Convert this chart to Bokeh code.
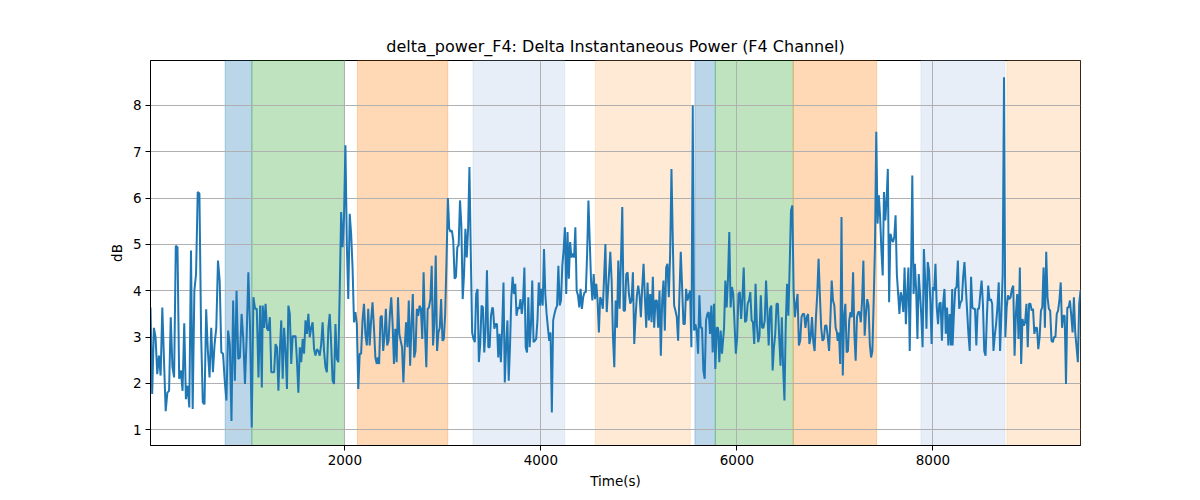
import numpy as np
from bokeh.plotting import figure
from bokeh.models import Range1d, SingleIntervalTicker, BoxAnnotation, ColumnDataSource
from bokeh.embed import file_html
from bokeh.resources import INLINE

# ---- data ----
seg_start = [17, 1162, 2336, 3512, 4695, 5869, 7028, 8201]
seg_end = [1153, 2326, 3505, 4672, 5848, 7021, 8197, 9506]

seg1 = [3.64, 1.77, 3.2, 3.0, 2.2, 2.6, 2.17, 3.64, 2.5, 1.4, 1.8, 1.84, 3.43, 2.35, 2.13, 4.97, 4.94, 2.1, 2.28, 1.84,
        3.3, 1.66, 1.95, 1.48, 4.87, 1.45, 4.0, 4.36, 6.13, 6.1, 3.07, 1.59, 1.55, 3.6, 2.7, 2.13, 3.2, 2.24, 2.85, 3.2,
        4.65, 4.22, 2.67, 2.64, 2.06, 1.63, 3.14, 2.85, 1.19, 3.79, 2.06, 4.0, 2.53, 2.56, 3.5, 2.96, 1.99, 3.0, 4.4, 3.2,
        1.05, 3.86, 3.61, 3.61, 2.13, 3.68, 1.91]
seg2 = [3.68, 3.2, 3.72, 3.18, 3.14, 3.43, 2.24, 2.24, 2.24, 2.85, 2.78, 1.84, 2.7, 3.36, 2.1, 3.2, 2.7, 1.88, 3.68, 3.5,
        2.42, 3.03, 3.0, 3.03, 2.5, 1.8, 2.78, 2.46, 2.96, 2.64, 3.36, 3.07, 3.5, 3.0, 3.2, 3.32, 2.74, 2.6, 2.74, 2.7,
        2.6, 2.85, 3.32, 2.7, 2.35, 2.24, 3.18, 3.5, 2.85, 2.06, 1.99, 3.28, 2.53, 2.46, 4.0, 5.7, 4.94, 5.59, 7.14, 4.98,
        3.82, 5.66, 5.23, 4.5, 3.32, 3.54, 3.28, 1.88, 2.64, 2.64, 3.36, 3.72, 3.07, 2.82, 3.61, 2.82, 3.36, 3.75, 3.2,
        2.56, 2.42]
seg3 = [2.56, 2.42, 3.43, 3.46, 2.7, 3.03, 3.61, 2.82, 2.92, 3.5, 3.86, 3.28, 2.42, 3.18, 2.46, 3.86, 3.07, 2.92, 2.78,
        2.02, 2.78, 3.32, 2.78, 3.79, 2.38, 3.28, 3.93, 2.56, 2.7, 3.61, 3.46, 3.68, 3.61, 2.96, 4.4, 3.18, 2.35, 3.61,
        3.64, 3.82, 4.54, 2.82, 3.32, 4.76, 2.7, 3.1, 3.2, 3.82, 2.92, 2.96, 3.5, 4.65, 6.0, 5.34, 5.27, 5.3, 5.08, 4.26,
        4.3, 4.94, 4.98, 5.95, 5.41, 3.82, 4.36, 5.34, 4.72, 5.34, 6.67, 4.8, 3.1, 2.96, 2.89, 3.93, 4.04, 2.46, 2.85,
        3.68, 3.64, 2.67, 3.18, 4.44, 2.78, 2.78, 3.46, 3.64]
seg4 = [3.61, 3.18, 3.28, 3.28, 2.56, 3.07, 2.46, 3.2, 4.18, 2.02, 2.78, 3.36, 2.06, 2.82, 3.86, 4.3, 3.93, 4.15, 3.46,
        3.64, 3.61, 3.82, 3.5, 3.79, 4.5, 2.78, 2.67, 3.86, 2.78, 3.25, 4.22, 2.89, 2.92, 2.96, 3.36, 4.18, 3.68, 4.04,
        3.68, 4.9, 3.93, 3.5, 3.2, 2.92, 3.1, 1.37, 3.36, 3.5, 3.61, 3.68, 4.54, 3.68, 3.79, 4.54, 4.87, 5.37, 3.93, 5.27,
        4.26, 5.05, 4.72, 4.8, 4.72, 5.37, 4.0, 3.9, 3.64, 4.04, 3.61, 3.86, 3.97, 3.97, 4.8, 5.95, 5.08, 4.22, 3.79,
        4.36, 3.82, 4.15, 3.79, 3.1, 3.86, 3.79, 3.61, 4.3, 5.01, 3.54]
seg5 = [4.36, 4.84, 4.22, 3.0, 2.35, 3.79, 3.2, 4.65, 3.61, 4.65, 5.81, 3.57, 3.57, 4.36, 4.4, 3.93, 3.72, 3.79, 4.4,
        2.85, 3.43, 3.9, 4.11, 3.9, 3.43, 4.08, 4.58, 3.86, 3.2, 4.18, 3.36, 3.93, 3.32, 4.3, 3.2, 3.79, 3.79, 3.2, 4.0,
        2.6, 3.79, 4.22, 3.14, 4.5, 4.58, 3.86, 4.8, 6.63, 5.08, 3.68, 3.57, 3.43, 2.92, 3.93, 4.84, 4.08, 3.28, 3.28,
        4.04, 3.79, 3.9, 4.0, 2.78, 8.0, 3.14, 3.28, 3.14, 2.64, 3.9, 3.2, 3.2, 2.28, 2.1, 3.36, 3.5, 3.54, 3.07, 3.68,
        2.67, 3.72, 2.31, 3.2, 3.2, 2.46, 3.14, 2.64]
seg6 = [3.2, 4.22, 3.64, 4.26, 5.27, 3.64, 4.08, 3.93, 3.28, 2.64, 3.0, 3.93, 3.97, 3.39, 3.86, 4.5, 3.32, 3.36, 3.72,
        3.79, 3.97, 3.36, 3.32, 2.85, 4.15, 3.28, 2.89, 3.03, 3.9, 3.2, 3.2, 3.36, 4.22, 3.54, 2.82, 3.61, 3.68, 2.28,
        2.78, 3.07, 3.72, 3.72, 3.0, 2.38, 3.43, 2.35, 1.63, 3.28, 4.15, 3.46, 4.54, 5.73, 5.84, 4.0, 3.43, 3.72, 3.93,
        2.82, 2.92, 3.43, 3.5, 3.5, 3.2, 3.43, 3.5, 2.85, 3.0, 3.43, 2.89, 2.7, 3.43, 3.93, 4.69, 3.9, 3.2, 2.92, 2.96,
        3.25, 3.25, 3.0, 2.7, 3.39, 4.22, 3.79, 3.68, 3.2, 3.1]
seg7 = [2.92, 3.1, 2.42, 5.59, 2.17, 3.43, 3.72, 2.67, 2.7, 3.36, 3.54, 3.43, 4.4, 3.07, 2.49, 3.43, 3.54, 3.54, 3.32,
        3.79, 4.65, 3.03, 3.5, 3.82, 3.68, 2.85, 2.56, 2.7, 3.79, 4.94, 7.43, 5.45, 6.06, 5.59, 4.87, 4.33, 6.13, 5.52,
        5.95, 6.63, 3.75, 5.23, 5.12, 5.05, 5.16, 5.63, 4.36, 3.93, 3.5, 3.97, 3.86, 3.54, 4.5, 3.28, 3.93, 4.5, 2.7,
        4.36, 6.49, 3.93, 4.58, 4.0, 2.96, 4.36, 3.93, 3.46, 2.78, 4.9, 4.22, 3.18, 4.62, 4.44, 3.79, 2.85, 4.08, 4.0,
        4.58, 3.64, 3.28, 3.72, 3.75, 2.92, 3.75, 4.04, 3.07, 3.64, 2.82, 3.5, 2.82, 4.04]
seg8 = [2.82, 3.5, 4.04, 4.08, 4.65, 3.61, 3.75, 3.79, 4.3, 4.62, 4.08, 3.57, 3.07, 2.7, 4.3, 3.64, 3.61, 3.61, 2.82,
        3.61, 3.61, 3.93, 4.22, 3.72, 2.7, 2.6, 3.43, 4.11, 3.79, 3.82, 3.72, 2.7, 3.03, 3.28, 3.64, 4.18, 2.7, 3.5,
        4.36, 8.61, 3.0, 3.64, 3.9, 3.82, 3.86, 4.04, 4.11, 2.6, 3.5, 3.93, 2.96, 4.5, 2.42, 3.39, 3.25, 3.32, 3.72, 2.78,
        3.72, 3.72, 3.57, 3.61, 3.07, 3.2, 3.2, 2.74, 3.0, 3.57, 3.64, 4.5, 3.2, 4.84, 3.86, 3.61, 3.57, 2.92, 2.89, 3.0,
        3.0, 3.5, 3.57, 3.79, 4.18, 3.2, 3.46, 3.46, 1.99, 3.64, 3.64, 3.79, 3.46, 3.1, 3.86, 3.1, 2.78, 2.46, 3.72, 4.0]

segments = [seg1, seg2, seg3, seg4, seg5, seg6, seg7, seg8]

# shaded intervals (seconds)
span_start = [779, 1051, 2129, 3308, 4556, 5572, 5780, 6575, 7878, 8755]
span_end = [1051, 1996, 3050, 4244, 5524, 5780, 6575, 7426, 8734, 9506]
span_color = ["#1f77b4", "#2ca02c", "#ff7f0e", "#aec7e8", "#ffbb78",
              "#1f77b4", "#2ca02c", "#ff7f0e", "#aec7e8", "#ffbb78"]

x_limits = (17, 9506)
y_limits = (0.66, 8.97)

# ---- build series ----
t_parts, v_parts = [], []
for s0, s1, vals in zip(seg_start, seg_end, segments):
    t_parts.append(np.linspace(s0, s1, len(vals)))
    v_parts.append(np.array(vals))
t = np.concatenate(t_parts)
v = np.concatenate(v_parts)

FONT = "DejaVu Sans"

p = figure(width=1200, height=500, output_backend="svg", toolbar_location=None,
           x_range=Range1d(*x_limits), y_range=Range1d(*y_limits),
           min_border_left=150, min_border_right=120, min_border_top=60, min_border_bottom=55,
           title="delta_power_F4: Delta Instantaneous Power (F4 Channel)")

p.title.align = "center"
p.title.text_font = FONT
p.title.text_font_size = "16px"
p.title.text_font_style = "normal"
p.title.text_color = "black"

for s0, s1, c in zip(span_start, span_end, span_color):
    box = BoxAnnotation(left=s0, right=s1, fill_color=c, fill_alpha=0.3,
                        line_color=c, line_alpha=0.3, line_width=1, level="image")
    p.add_layout(box)

p.line(t, v, line_color="#1f77b4", line_width=2)

p.xaxis.ticker = SingleIntervalTicker(interval=2000, num_minor_ticks=0)
p.yaxis.ticker = SingleIntervalTicker(interval=1, num_minor_ticks=0)
p.xaxis.axis_label = "Time(s)"
p.yaxis.axis_label = "dB"

for ax in (p.xaxis, p.yaxis):
    ax.major_label_text_font = FONT
    ax.major_label_text_font_size = "13.5px"
    ax.major_label_text_color = "black"
    ax.axis_label_text_font = FONT
    ax.axis_label_text_font_size = "13.5px"
    ax.axis_label_text_font_style = "normal"
    ax.axis_label_text_color = "black"
    ax.major_tick_in = 0
    ax.major_tick_out = 5
    ax.minor_tick_in = 0
    ax.minor_tick_out = 0
    ax.major_tick_line_color = "black"
    ax.axis_line_color = "black"
    ax.major_label_standoff = 4

p.grid.grid_line_color = "#b0b0b0"
p.grid.grid_line_width = 1
p.outline_line_color = "black"
p.outline_line_width = 1
p.background_fill_color = "white"
p.border_fill_color = "white"

open("out.html", "w").write(file_html(p, INLINE))
